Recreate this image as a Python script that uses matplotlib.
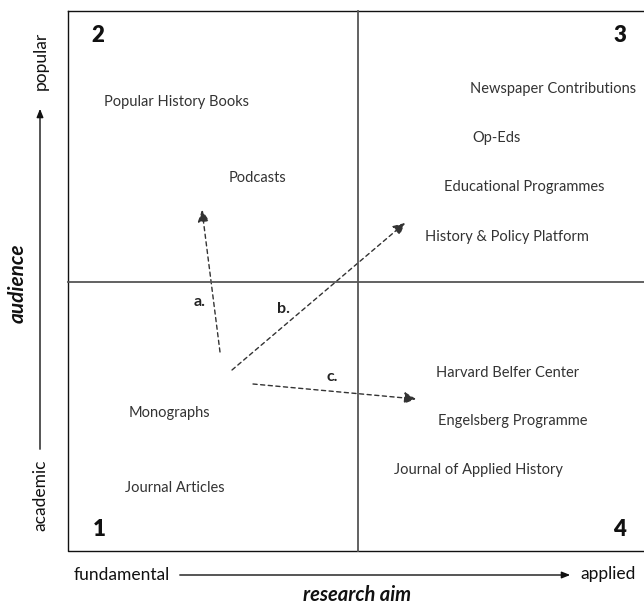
import matplotlib
matplotlib.use('Agg')
import matplotlib.pyplot as plt
from matplotlib.patches import FancyArrowPatch

plt.rcParams['font.family'] = ['Lato', 'DejaVu Sans']

# figure in pixel coordinates (x right, y down)
W, H = 644, 604
BOX = (68, 11, 650, 551)       # left, top, right, bottom
MID_X, MID_Y = 358, 282

items = ['Popular History Books', 'Podcasts',
         'Newspaper Contributions', 'Op-Eds', 'Educational Programmes', 'History & Policy Platform',
         'Harvard Belfer Center', 'Engelsberg Programme', 'Journal of Applied History',
         'Monographs', 'Journal Articles']
items_x = [177, 258, 553, 497, 524, 507, 508, 513, 478, 169, 175]
items_y = [102, 178, 89, 138, 187, 237, 373, 421, 470, 413, 488]

quad_labels = ['2', '3', '1', '4']
quad_x = [98, 620, 99, 620]
quad_y = [36, 36, 530, 529]

arrow_names = ['a.', 'b.', 'c.']
arrow_start = [(220, 352), (232, 370), (253, 384)]
arrow_end = [(202, 210), (405, 223), (416, 399)]
arrow_label_pos = [(200, 302), (283, 309), (332, 377)]

fig = plt.figure(figsize=(W / 100, H / 100), dpi=100)
ax = fig.add_axes([0, 0, 1, 1])
ax.set_xlim(0, W)
ax.set_ylim(H, 0)
ax.axis('off')

# Kvadranty
l, t, r, b = BOX
ax.plot([l, r, r, l, l], [t, t, b, b, t], color='#111111', lw=1.0)
ax.plot([MID_X, MID_X], [t, b], color='#555555', lw=1.3)
ax.plot([l, r], [MID_Y, MID_Y], color='#555555', lw=1.3)

for lab, x, y in zip(quad_labels, quad_x, quad_y):
    ax.text(x, y, lab, fontsize=16, fontweight='heavy', ha='center', va='center', color='#111111')

for lab, x, y in zip(items, items_x, items_y):
    ax.text(x, y, lab, fontsize=10.5, ha='center', va='center', color='#333333')

# Šipky
for name, s, e, p in zip(arrow_names, arrow_start, arrow_end, arrow_label_pos):
    arr = FancyArrowPatch(s, e, arrowstyle='-|>,head_length=7,head_width=3.5',
                          linestyle=(0, (3, 2.5)), lw=1.0, color='#333333',
                          mutation_scale=1, shrinkA=0, shrinkB=0)
    ax.add_patch(arr)
    ax.text(p[0], p[1], name, fontsize=11.5, fontweight='bold', ha='center', va='center', color='#222222')

# Osy
ax.annotate('', xy=(40, 106), xytext=(40, 452),
            arrowprops=dict(arrowstyle='-|>,head_length=0.5,head_width=0.2', lw=1.0, color='#111111'))
ax.text(41, 61, 'popular', rotation=90, fontsize=12.5, ha='center', va='center', color='#111111')
ax.text(40, 495, 'academic', rotation=90, fontsize=12.5, ha='center', va='center', color='#111111')
ax.text(18, 283, 'audience', rotation=90, fontsize=15, fontweight='bold', style='italic',
        ha='center', va='center', color='#111111')

ax.annotate('', xy=(573, 575), xytext=(177, 575),
            arrowprops=dict(arrowstyle='-|>,head_length=0.5,head_width=0.2', lw=1.0, color='#111111'))
ax.text(122, 575, 'fundamental', fontsize=12.5, ha='center', va='center', color='#111111')
ax.text(608, 574, 'applied', fontsize=12.5, ha='center', va='center', color='#111111')
ax.text(357, 595, 'research aim', fontsize=14.5, fontweight='bold', style='italic',
        ha='center', va='center', color='#111111')

fig.savefig('out.png', dpi=100, facecolor='white')
